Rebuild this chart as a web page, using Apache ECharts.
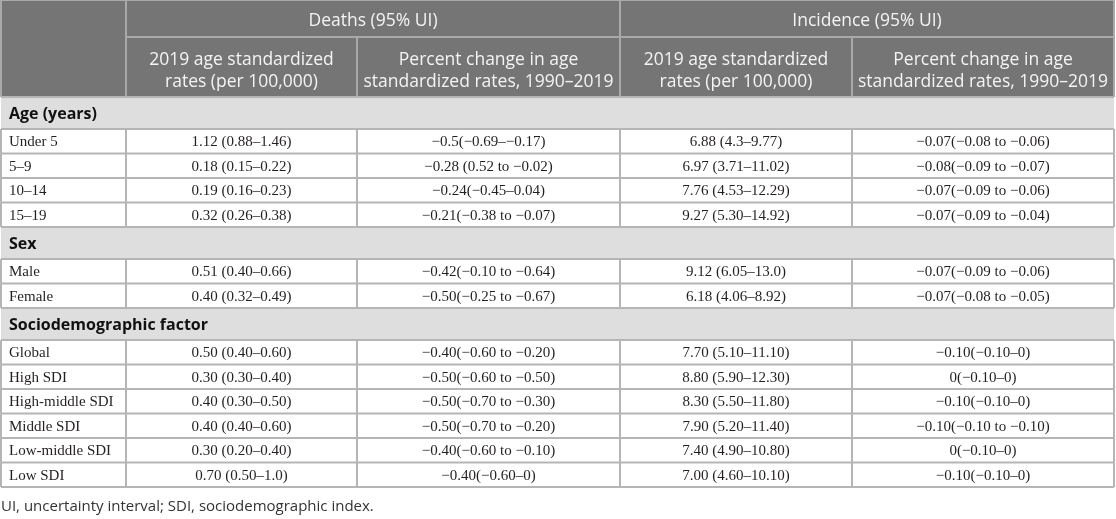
<!DOCTYPE html>
<html>
<head>
<meta charset="utf-8">
<script src="https://cdn.jsdelivr.net/npm/echarts@6/dist/echarts.min.js"></script>
<style>
  html, body { margin: 0; padding: 0; background: #fff; }
  #chart { width: 1116px; height: 519px; }
</style>
</head>
<body>
<div id="chart"></div>
<script>
// ---- table content ----
var groupNames = ['Age (years)', 'Sex', 'Sociodemographic factor'];
var ageLabels = ['Under 5', '5–9', '10–14', '15–19'];
var sexLabels = ['Male', 'Female'];
var sdiLabels = ['Global', 'High SDI', 'High-middle SDI', 'Middle SDI', 'Low-middle SDI', 'Low SDI'];

var deathRates = [
  '1.12 (0.88–1.46)', '0.18 (0.15–0.22)', '0.19 (0.16–0.23)', '0.32 (0.26–0.38)',
  '0.51 (0.40–0.66)', '0.40 (0.32–0.49)',
  '0.50 (0.40–0.60)', '0.30 (0.30–0.40)', '0.40 (0.30–0.50)', '0.40 (0.40–0.60)', '0.30 (0.20–0.40)', '0.70 (0.50–1.0)'
];
var deathChanges = [
  '−0.5(−0.69–−0.17)', '−0.28 (0.52 to −0.02)', '−0.24(−0.45–0.04)', '−0.21(−0.38 to −0.07)',
  '−0.42(−0.10 to −0.64)', '−0.50(−0.25 to −0.67)',
  '−0.40(−0.60 to −0.20)', '−0.50(−0.60 to −0.50)', '−0.50(−0.70 to −0.30)', '−0.50(−0.70 to −0.20)', '−0.40(−0.60 to −0.10)', '−0.40(−0.60–0)'
];
var incidenceRates = [
  '6.88 (4.3–9.77)', '6.97 (3.71–11.02)', '7.76 (4.53–12.29)', '9.27 (5.30–14.92)',
  '9.12 (6.05–13.0)', '6.18 (4.06–8.92)',
  '7.70 (5.10–11.10)', '8.80 (5.90–12.30)', '8.30 (5.50–11.80)', '7.90 (5.20–11.40)', '7.40 (4.90–10.80)', '7.00 (4.60–10.10)'
];
var incidenceChanges = [
  '−0.07(−0.08 to −0.06)', '−0.08(−0.09 to −0.07)', '−0.07(−0.09 to −0.06)', '−0.07(−0.09 to −0.04)',
  '−0.07(−0.09 to −0.06)', '−0.07(−0.08 to −0.05)',
  '−0.10(−0.10–0)', '0(−0.10–0)', '−0.10(−0.10–0)', '−0.10(−0.10 to −0.10)', '0(−0.10–0)', '−0.10(−0.10–0)'
];
var headerGroups = ['Deaths (95% UI)', 'Incidence (95% UI)'];
var headerSubs = ['2019 age standardized\nrates (per 100,000)', 'Percent change in age\nstandardized rates, 1990–2019'];
var footnote = 'UI, uncertainty interval; SDI, sociodemographic index.';

// ---- layout ----
var colEdges = [1, 126, 357, 620, 852, 1114];
var headRow1 = 37, headBottom = 97;
var sectionH = 32, rowH = 24.5;

var C_HEAD = '#757575', C_HEAD_LINE = '#a9a9a9', C_SECTION = '#dedede';
var C_LINE = '#b5b5b5', C_TEXT = '#231f20';
var SANS = '"Open Sans", "Noto Sans", sans-serif';
var SERIF = '"Liberation Serif", "DejaVu Serif", serif';

function rect(x, y, w, h, fill) {
  return { type: 'rect', silent: true, shape: { x: x, y: y, width: w, height: h }, style: { fill: fill } };
}
function line(x1, y1, x2, y2, color, z) {
  return { type: 'line', silent: true, z: z || 10, shape: { x1: x1, y1: y1, x2: x2, y2: y2 }, style: { stroke: color, lineWidth: 2 } };
}
function text(str, x, y, font, fill, align, lh) {
  return {
    type: 'text', silent: true, z: 20,
    style: {
      text: str, x: x, y: y, font: font, fill: fill,
      align: align, textAlign: align, verticalAlign: 'middle', textVerticalAlign: 'middle',
      lineHeight: lh || 20
    }
  };
}

function buildTable() {
  var els = [];
  var left = colEdges[0], right = colEdges[colEdges.length - 1];
  var width = right - left;

  // header
  els.push(rect(left, 0, width, headBottom, C_HEAD));
  els.push(line(colEdges[1], headRow1, right, headRow1, C_HEAD_LINE));
  [colEdges[1], colEdges[3]].forEach(function(x) {
    els.push(line(x, 0, x, headBottom, C_HEAD_LINE));
  });
  [colEdges[2], colEdges[4]].forEach(function(x) {
    els.push(line(x, headRow1, x, headBottom, C_HEAD_LINE));
  });
  headerGroups.forEach(function(name, g) {
    var x0 = colEdges[1 + g * 2], x1 = colEdges[3 + g * 2];
    els.push(text(name, (x0 + x1) / 2, headRow1 / 2 + 3, '17.5px ' + SANS, '#f4f4f4', 'center'));
    headerSubs.forEach(function(sub, s) {
      var a = colEdges[1 + g * 2 + s], b = colEdges[2 + g * 2 + s];
      els.push(text(sub, (a + b) / 2, (headRow1 + headBottom) / 2 + 4, '17.5px ' + SANS, '#f4f4f4', 'center', 22));
    });
  });

  // body
  var groups = [ageLabels, sexLabels, sdiLabels];
  var cols = [deathRates, deathChanges, incidenceRates, incidenceChanges];
  var y = headBottom, idx = 0;
  groups.forEach(function(labels, g) {
    els.push(rect(left, y, width, sectionH, C_SECTION));
    els.push(line(left, y, right, y, C_LINE));
    els.push(text(groupNames[g], left + 8, y + sectionH / 2 + 1, 'bold 16px ' + SANS, '#111', 'left'));
    y += sectionH;
    labels.forEach(function(label) {
      els.push(line(left, y, right, y, C_LINE));
      colEdges.forEach(function(x) {
        els.push(line(x, y, x, y + rowH, C_LINE));
      });
      var cy = y + rowH / 2 + 1;
      els.push(text(label, left + 8, cy, '15px ' + SERIF, C_TEXT, 'left'));
      cols.forEach(function(col, c) {
        els.push(text(col[idx], (colEdges[c + 1] + colEdges[c + 2]) / 2, cy, '15px ' + SERIF, C_TEXT, 'center'));
      });
      y += rowH;
      idx++;
    });
  });
  els.push(line(left, y, right, y, C_LINE));
  els.push(line(left, 0, left, headBottom, C_HEAD_LINE, 5));
  els.push(line(right, 0, right, headBottom, C_HEAD_LINE, 5));
  els.push(line(left, 0, right, 0, C_HEAD_LINE, 5));

  // footnote
  els.push(text(footnote, 1, y + 20, '15px ' + SANS, '#333', 'left'));
  return els;
}

var chart = echarts.init(document.getElementById('chart'), null, { renderer: 'canvas' });
chart.setOption({
  animation: false,
  graphic: { elements: buildTable() }
});
</script>
</body>
</html>
